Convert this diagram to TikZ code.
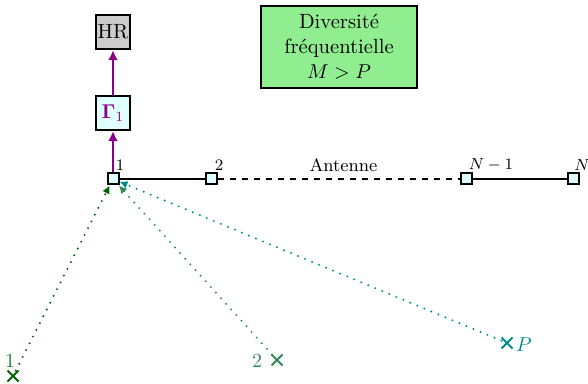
\documentclass[tikz,border=0pt]{standalone}
\usepackage{amsmath,amssymb,amsfonts}
\usepackage{xcolor}
\usetikzlibrary{arrows, positioning, shapes, shapes.misc, arrows.meta}
\definecolor{darkmag}{RGB}{139,0,139}
\definecolor{lightcy}{RGB}{224,255,255}
\definecolor{lightgr}{RGB}{144,238,144}
\definecolor{seagr}{RGB}{46,139,87}
\definecolor{tealgr}{RGB}{0,139,139}
\definecolor{darkgr}{RGB}{0,100,0}
\tikzset{block/.style={draw,line width=1.2pt,minimum size=17pt,inner sep=0pt,font=\fontsize{10.3}{12.6}\selectfont},
    antenna/.style={draw,line width=1pt,fill=lightcy,minimum size=5.5pt,inner sep=0pt},
    source/.style={cross out,draw,line width=1pt,minimum size=4.5pt,inner sep=0pt},
    path edge/.style={draw,line width=1.3pt,darkmag,-{Latex[length=5pt,width=5pt]}},
    wave/.style={draw,line width=1.1pt,line cap=round,dash pattern=on 0pt off 3.8pt,
      -{Latex[length=4pt,width=4pt]}},
    index/.style={font=\footnotesize,inner sep=0pt}}

\begin{document}
\begin{tikzpicture}[x=0.5pt,y=-0.5pt]

  \useasboundingbox (0,0) rectangle (588,384);

  % First we draw the receiver chain

  \node[block,fill=black!20] (hr) at (113,32) {HR};
  \node[block,fill=lightcy] (gamma) at (113,113) {\textcolor{darkmag}{$\boldsymbol{\Gamma}_1$}};

  \node[block,fill=lightgr,minimum width=78pt,minimum height=41pt,
    align=center] (div) at (339,47) {Diversit\'e\\fr\'equentielle\\$M>P$};

  % Antenna elements

  \foreach \pos/\name in {{(113,179)/a1}, {(211,179)/a2}, {(466,179)/aN1}, {(573,179)/aN}}
    \node[antenna] (\name) at \pos {};

  \path[draw,line width=1.2pt] (a1) -- (a2);
  \path[draw,line width=1.2pt,dashed] (a2) -- (aN1);
  \path[draw,line width=1.2pt] (aN1) -- (aN);

  \path[path edge] (a1) -- (gamma);
  \path[path edge] (gamma) -- (hr);

  \node[index] (l1) at (120,165) {1};
  \node[index] (l2) at (219,165) {2};
  \node[font=\small,inner sep=0pt] (ant) at (343.5,165) {Antenne};
  \node[index] (lN1) at (491,165) {$N-1$};
  \node[index] (lN) at (582,165) {$N$};

  % Sources

  \foreach \pos/\name/\col in {{(13,376)/s1/darkgr}, {(277,360)/s2/seagr}, {(507,343)/sP/tealgr}}
    \node[source,\col] (\name) at \pos {};

  \node[seagr!70!darkgr,inner sep=0pt] (t1) at (10,361) {1};
  \node[seagr,inner sep=0pt] (t2) at (257,361) {$2$};
  \node[tealgr,inner sep=0pt] (tP) at (524,345) {$P$};

  % Dotted paths towards the first element

  \path[wave,darkgr] (s1) -- (a1);
  \path[wave,seagr] (s2) -- (a1);
  \path[wave,tealgr] (sP) -- (a1);

\end{tikzpicture}
\end{document}
